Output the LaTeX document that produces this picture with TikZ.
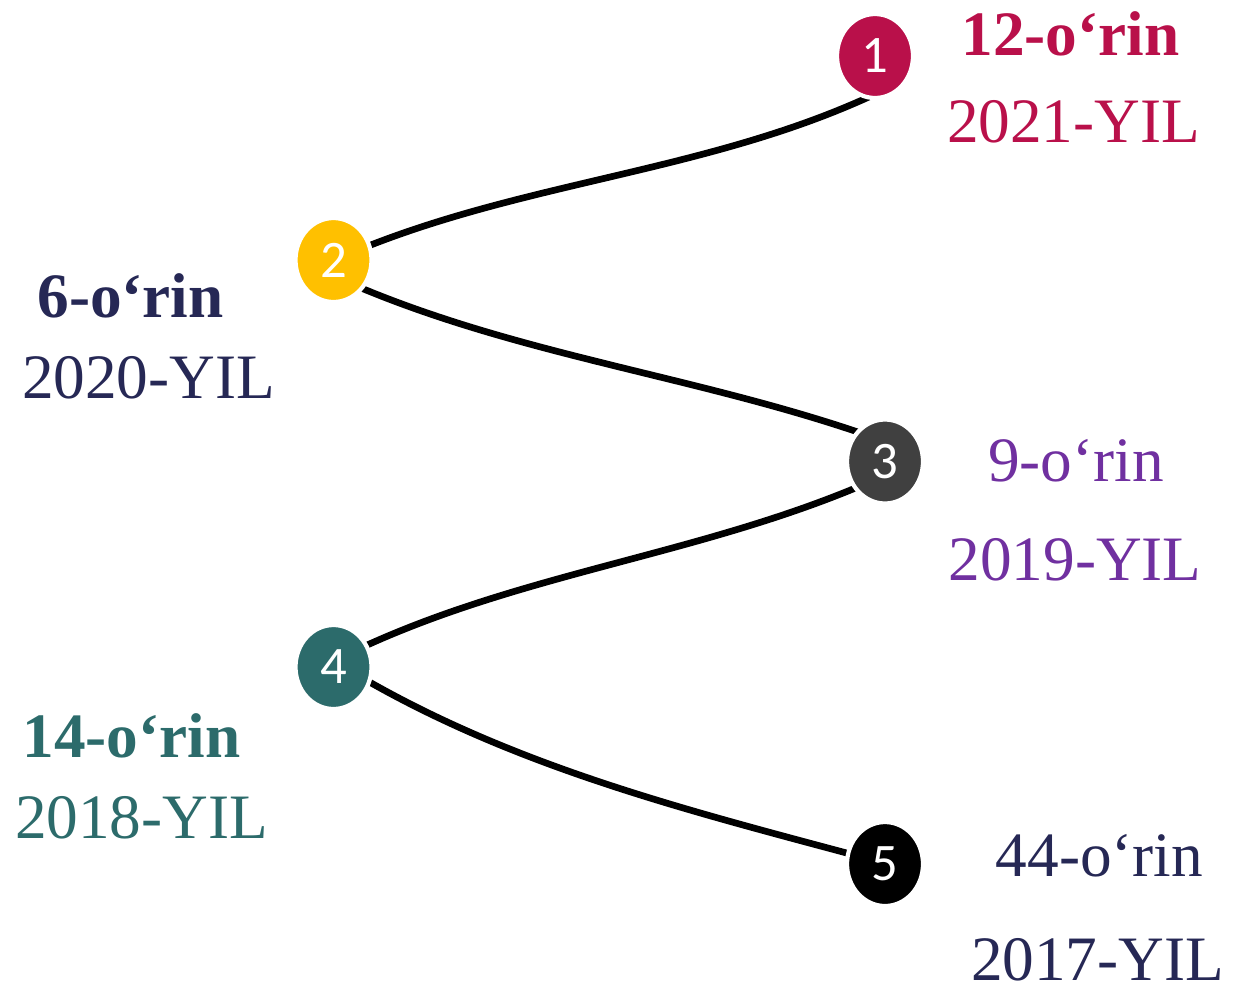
\documentclass[tikz,border=0pt]{standalone}
\usepackage{fontspec}
\setmainfont{Liberation Serif}
\newfontfamily\numfont{Carlito}
\usetikzlibrary{shapes.geometric,backgrounds}
\definecolor{rinred}{HTML}{B9104A}
\definecolor{ringold}{HTML}{FFC000}
\definecolor{ringray}{HTML}{404040}
\definecolor{rinteal}{HTML}{2C6B6B}
\definecolor{rinnavy}{HTML}{262855}
\definecolor{rinpurple}{HTML}{7030A0}
\tikzset{
    rinnode/.style={ellipse,draw=white,line width=1.2pt,minimum width=0.76cm,minimum height=0.84cm,
        inner sep=0pt,text=white,font=\numfont\fontsize{15}{16}\selectfont},
    yearlabel/.style={anchor=base,font=\fontsize{18}{20}\selectfont},
    wave/.style={line width=1.9pt,shorten <=-3pt,shorten >=-3pt,looseness=0.85}
}

\begin{document}
\begin{tikzpicture}
        \useasboundingbox(0,0)rectangle(12.33,9.86);
        \node[rinnode,fill=rinred](c1)at(8.75,9.30){1};
        \node[rinnode,fill=ringold](c2)at(3.335,7.26){2};
        \node[rinnode,fill=ringray](c3)at(8.85,5.245){3};
        \node[rinnode,fill=rinteal](c4)at(3.335,3.19){4};
        \node[rinnode,fill=black](c5)at(8.85,1.22){5};
        \begin{scope}[on background layer]
            \draw[wave](c2.22)to[out=22,in=205](c1.-103);
            \draw[wave](c2.-44)to[out=-23,in=161](c3.134);
            \draw[wave](c4.33)to[out=25,in=203](c3.221);
            \draw[wave](c4.-23)to[out=-30,in=165](c5.164);
        \end{scope}
        \node[yearlabel,text=rinred,font=\bfseries\fontsize{18}{20}\selectfont](r1)at(10.705,9.31){12-o‘rin};
        \node[yearlabel,text=rinred](y1)at(10.735,8.44){2021-YIL};
        \node[yearlabel,text=rinnavy,font=\bfseries\fontsize{18}{20}\selectfont](r2)at(1.305,6.69){6-o‘rin};
        \node[yearlabel,text=rinnavy](y2)at(1.485,5.88){2020-YIL};
        \node[yearlabel,text=rinpurple](r3)at(10.76,5.05){9-o‘rin};
        \node[yearlabel,text=rinpurple](y3)at(10.75,4.06){2019-YIL};
        \node[yearlabel,text=rinteal,font=\bfseries\fontsize{18}{20}\selectfont](r4)at(1.315,2.29){14-o‘rin};
        \node[yearlabel,text=rinteal](y4)at(1.415,1.48){2018-YIL};
        \node[yearlabel,text=rinnavy](r5)at(10.995,1.10){44-o‘rin};
        \node[yearlabel,text=rinnavy](y5)at(10.975,0.06){2017-YIL};
    \end{tikzpicture}
\end{document}
